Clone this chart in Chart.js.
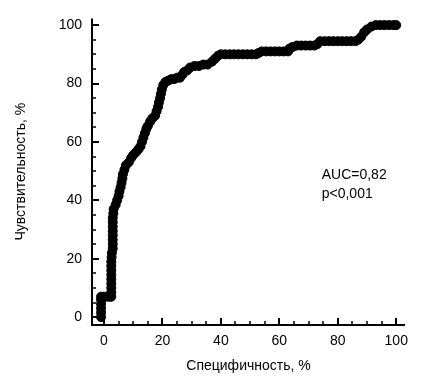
<!DOCTYPE html>
<html>
<head>
<meta charset="utf-8">
<script src="https://cdn.jsdelivr.net/npm/chart.js@4"></script>
<style>
    html, body { margin: 0; padding: 0; background: #fff; }
</style>
</head>
<body>
<canvas id="chart" width="429" height="380"></canvas>
<script>
// ROC curve points
var specificity = [-1, -1, -1, -1, -1, -1, 0, 1, 2, 2.5,
    2.5, 2.5, 2.5, 2.5, 2.5, 2.5, 2.5, 2.5, 2.6, 2.7, 3, 3, 3, 3, 3, 3, 3, 3, 3.2, 3.3,
    4, 4.5, 5, 5.3, 5.7, 6, 6.3, 6.5, 7, 7.5, 8.5, 9.3, 10, 11, 11.8, 12.5, 13, 13.5, 14, 14.5,
    15, 15.8, 16.5, 17.5, 18, 18.5, 18.8, 19.2, 19.5, 19.8, 20.3, 21, 22, 23, 24, 25, 26, 26.8, 27.5, 28.5,
    29.5, 31, 32.5, 34, 35.5, 37, 38, 39, 40, 41.5, 43, 44.5, 46, 47.5, 49, 50.5, 52, 53, 54, 55.5,
    57, 58.5, 60, 61.5, 63, 63.5, 64.5, 66, 67.5, 69, 70.5, 72, 73, 74, 75.5, 77, 78.5, 80, 81.5, 83,
    84.5, 86, 87, 88, 89, 90, 91.5, 93, 94.5, 96, 97.5, 99, 100];
var sensitivity = [0, 1.5, 3, 4.5, 6, 7, 7, 7, 7, 7,
    8.5, 10, 11.5, 13, 14.5, 16, 17.5, 19, 20.5, 22, 23.5, 25, 26.5, 28, 29.5, 31, 32.5, 34, 35.5, 37,
    38.5, 40, 41.5, 43, 44.5, 46, 47.5, 49, 50.5, 52, 53, 54.5, 55.5, 56.5, 57.5, 58.5, 60, 61.5, 63, 64.5,
    65.5, 67, 68, 69, 70.5, 72, 73.5, 75, 76.5, 78, 79.5, 80.5, 81, 81.5, 81.5, 82, 82, 83, 84, 84.5,
    85.5, 86, 86, 86.5, 86.5, 87.5, 88.5, 89.5, 90, 90, 90, 90, 90, 90, 90, 90, 90, 90.5, 91, 91,
    91, 91, 91, 91, 91, 92, 92.5, 93, 93, 93, 93, 93, 93.5, 94.5, 94.5, 94.5, 94.5, 94.5, 94.5, 94.5,
    94.5, 94.5, 95, 96, 97.5, 98.5, 99.5, 100, 100, 100, 100, 100, 100];

var xTicks = [0, 20, 40, 60, 80, 100];
var yTicks = [0, 20, 40, 60, 80, 100];
var minorTicks = [5, 10, 15, 25, 30, 35, 45, 50, 55, 65, 70, 75, 85, 90, 95];

var xTitle = "Специфичность, %";
var yTitle = "Чувствительность, %";
var statsLines = ["AUC=0,82", "p<0,001"];

var fontFamily = "'Liberation Sans', Arial, sans-serif";

var points = specificity.map((x, i) => ({ x: x, y: sensitivity[i] }));

function setTicks(values) {
    return (scale) => {
        scale.ticks = values.map((v) => ({ value: v }));
    };
}

// axis lines with inward tick marks, plus the AUC note
var axesPlugin = {
    id: 'axesPlugin',
    beforeDatasetsDraw (chart) {
        var ctx = chart.ctx;
        var area = chart.chartArea;
        var xs = chart.scales.x;
        var ys = chart.scales.y;

        ctx.save();
        ctx.strokeStyle = '#000';
        ctx.lineWidth = 2;
        ctx.beginPath();
        ctx.moveTo(area.left, area.top);
        ctx.lineTo(area.left, area.bottom + 1);
        ctx.moveTo(area.left - 1, area.bottom);
        ctx.lineTo(area.right, area.bottom);
        ctx.stroke();

        ctx.beginPath();
        xTicks.forEach((v) => {
            var px = Math.round(xs.getPixelForValue(v));
            ctx.moveTo(px, area.bottom);
            ctx.lineTo(px, area.bottom - 7);
        });
        yTicks.forEach((v) => {
            var py = Math.round(ys.getPixelForValue(v));
            ctx.moveTo(area.left, py);
            ctx.lineTo(area.left + 7, py);
        });
        ctx.stroke();

        ctx.lineWidth = 1.5;
        ctx.beginPath();
        minorTicks.forEach((v) => {
            var px = Math.round(xs.getPixelForValue(v));
            ctx.moveTo(px, area.bottom);
            ctx.lineTo(px, area.bottom - 4);
            var py = Math.round(ys.getPixelForValue(v));
            ctx.moveTo(area.left, py);
            ctx.lineTo(area.left + 4, py);
        });
        ctx.stroke();
        ctx.restore();
    },
    afterDraw (chart) {
        var ctx = chart.ctx;
        var xs = chart.scales.x;
        var ys = chart.scales.y;
        ctx.save();
        ctx.fillStyle = '#000';
        ctx.font = "14px " + fontFamily;
        ctx.textAlign = 'left';
        ctx.textBaseline = 'middle';
        statsLines.forEach((line, i) => {
            ctx.fillText(line, xs.getPixelForValue(74.5), ys.getPixelForValue(48.5 - i * 6.3));
        });
        ctx.restore();
    }
};

var currentChart = new Chart(document.getElementById('chart').getContext('2d'), {
    type: 'line',
    data: {
        datasets: [{
            data: points,
            borderColor: '#000',
            borderWidth: 6,
            pointRadius: 4.5,
            pointBackgroundColor: '#000',
            pointBorderColor: '#000',
            pointBorderWidth: 1,
            tension: 0,
            clip: false
        }]
    },
    options: {
        responsive: false,
        animation: false,
        layout: {
            padding: { top: 12, right: 24, left: 0, bottom: 0 }
        },
        plugins: {
            legend: { display: false },
            tooltip: { enabled: false }
        },
        scales: {
            x: {
                type: 'linear',
                min: -4.1,
                max: 103,
                grid: { display: false, drawTicks: false },
                border: { display: false },
                afterBuildTicks: setTicks(xTicks),
                afterFit: (scale) => { scale.height = 55; },
                ticks: {
                    color: '#000',
                    padding: 8,
                    maxRotation: 0,
                    font: { family: fontFamily, size: 14 }
                },
                title: {
                    display: true,
                    text: xTitle,
                    color: '#000',
                    padding: { top: 0, bottom: 5 },
                    font: { family: fontFamily, size: 14 }
                }
            },
            y: {
                type: 'linear',
                min: -2.7,
                max: 102.3,
                grid: { display: false, drawTicks: false },
                border: { display: false },
                afterBuildTicks: setTicks(yTicks),
                afterFit: (scale) => { scale.width = 92; },
                ticks: {
                    color: '#000',
                    padding: 10,
                    font: { family: fontFamily, size: 14 }
                },
                title: {
                    display: true,
                    text: yTitle,
                    color: '#000',
                    padding: { top: 13, bottom: 0 },
                    font: { family: fontFamily, size: 14 }
                }
            }
        }
    },
    plugins: [axesPlugin]
});
</script>
</body>
</html>
